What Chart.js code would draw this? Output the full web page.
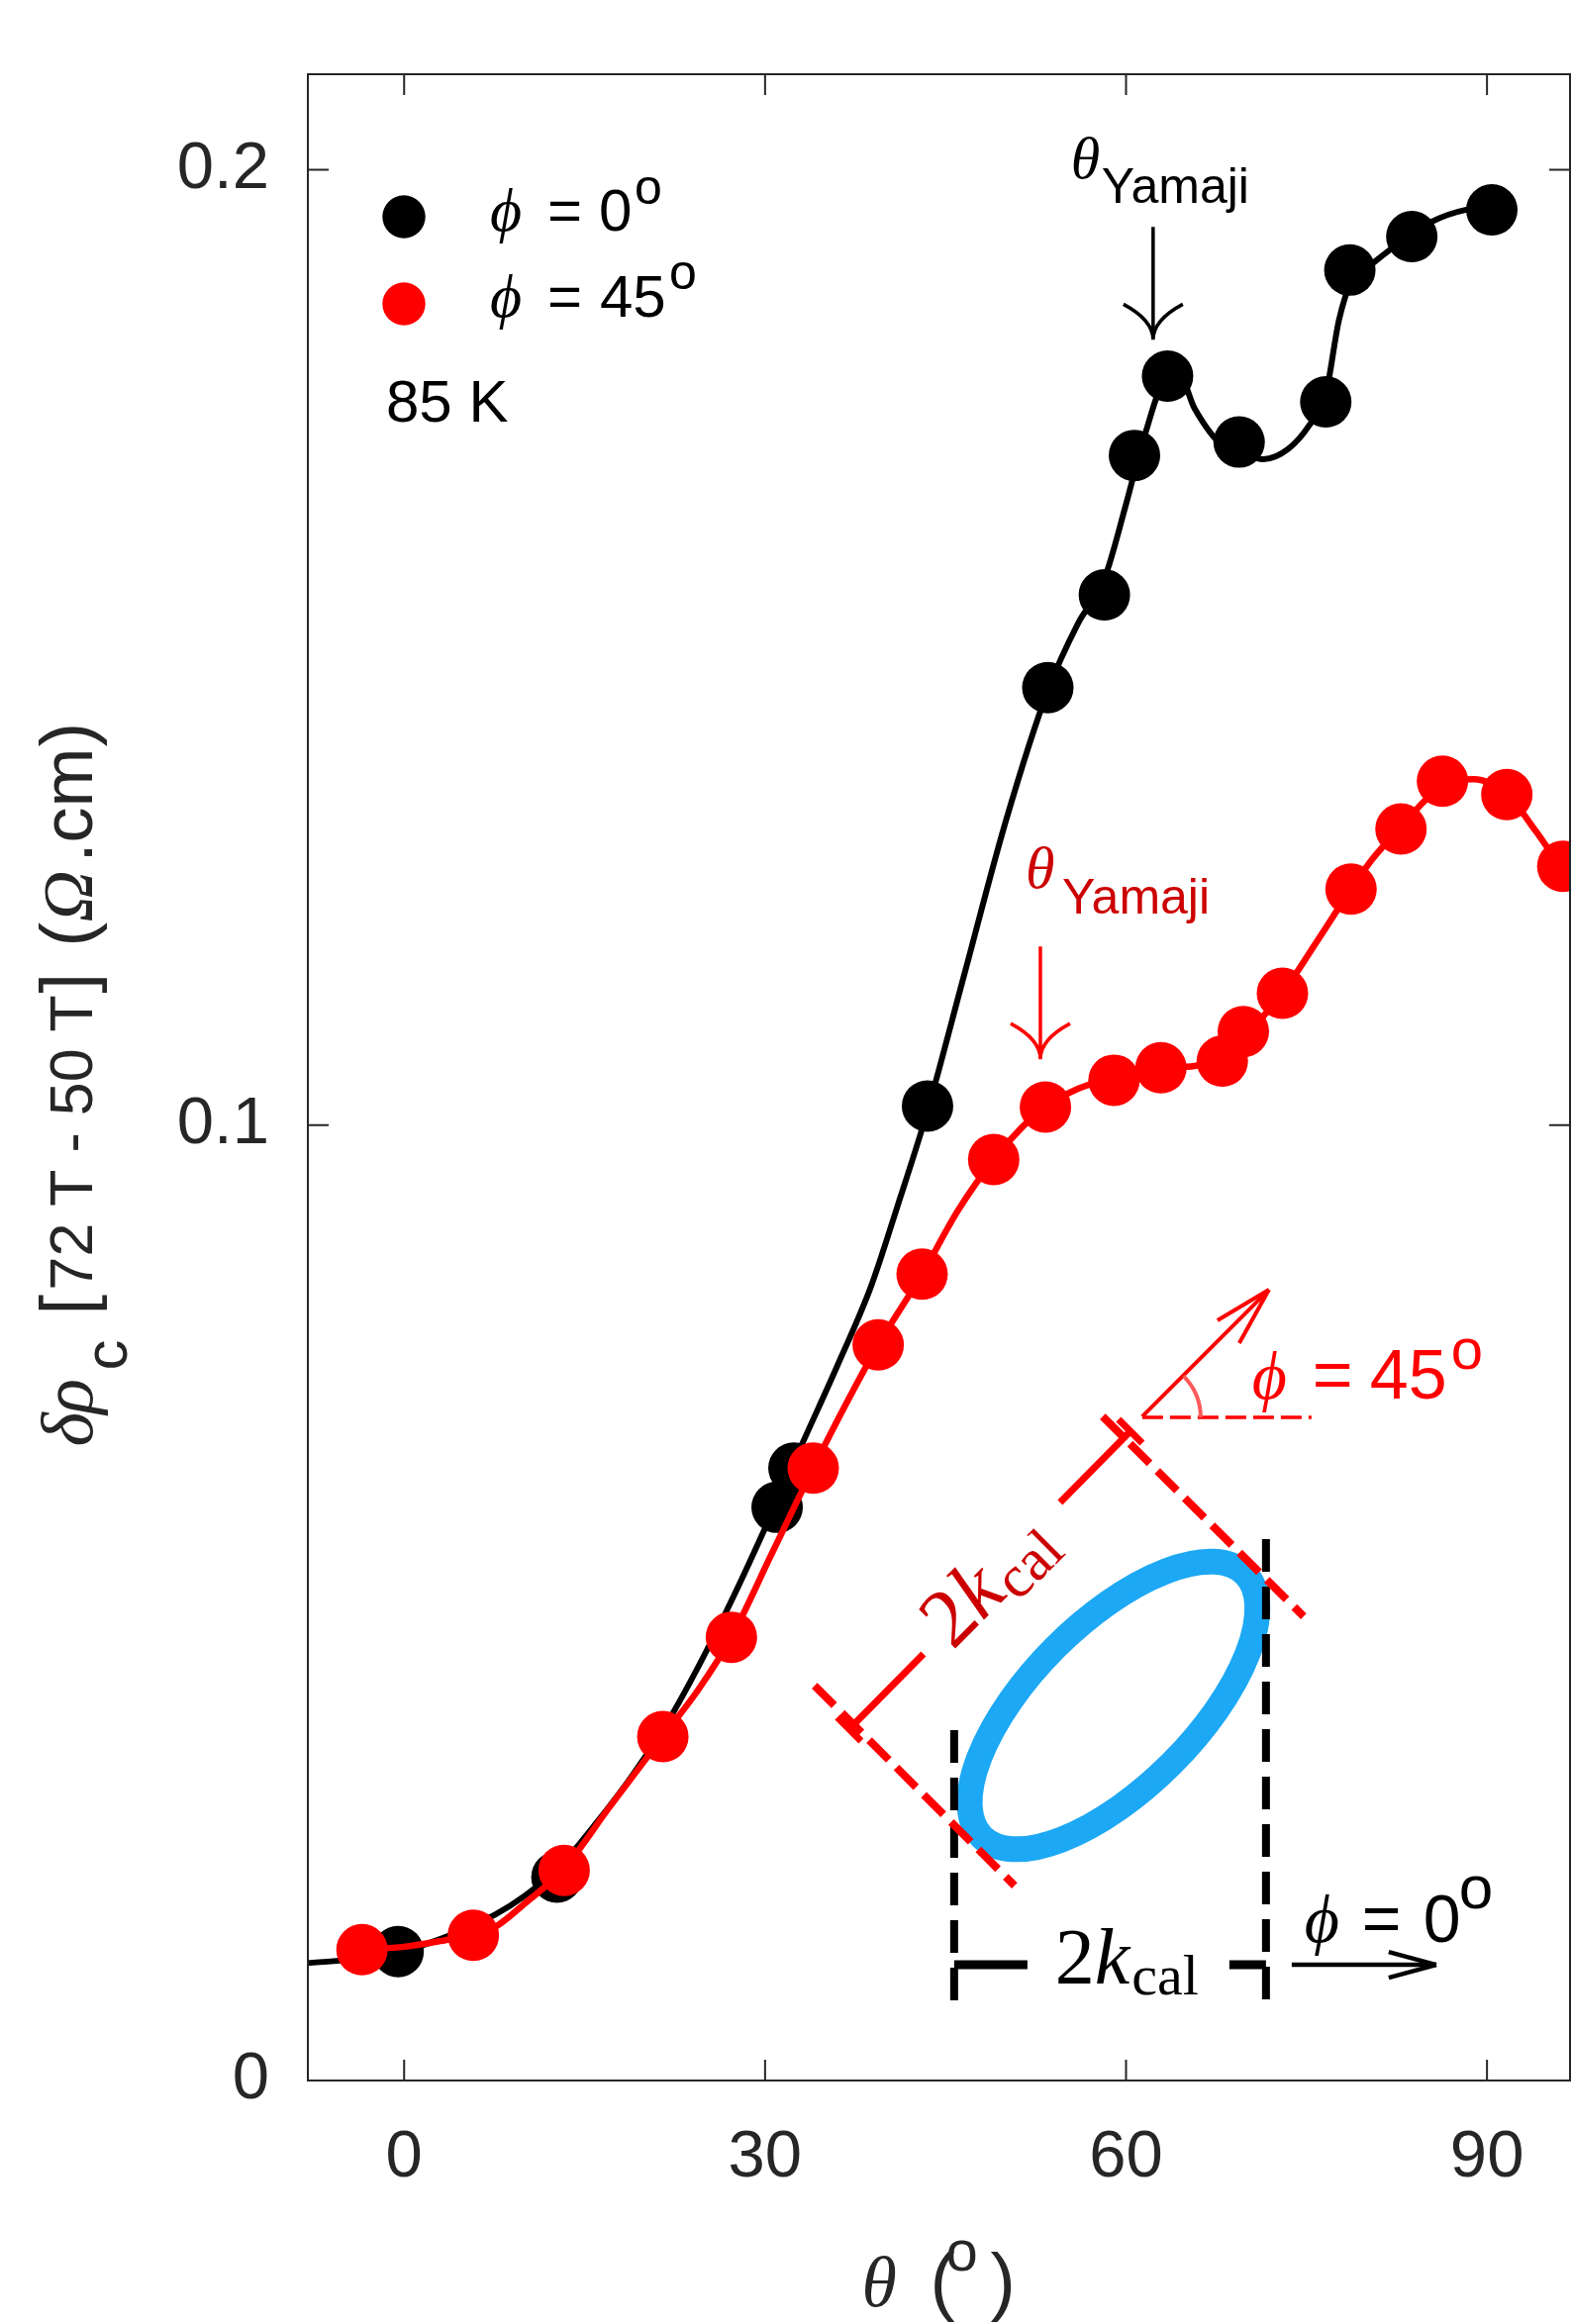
<!DOCTYPE html>
<html>
<head>
<meta charset="utf-8">
<script src="https://cdn.jsdelivr.net/npm/chart.js@4.4.1/dist/chart.umd.min.js"></script>
<style>
html, body { margin: 0; padding: 0; background: #fff; }
#chart-con { width: 1588px; height: 2348px; }
</style>
</head>
<body>
<div id="chart-con"><canvas id="my-chart" width="1588" height="2348"></canvas></div>
<script>
// axis ticks
const xTicks = [0, 30, 60, 90];
const yTicks = [0, 0.1, 0.2];
const yTickLabels = ['0', '0.1', '0.2'];

// phi = 0 deg, measured points
const blackTheta = [-0.5, 12.7, 31.0, 32.4, 43.5, 53.5, 58.2, 60.7, 63.45, 69.4, 76.6, 78.6, 83.75, 90.4];
const blackRho = [0.0135, 0.0213, 0.0600, 0.0641, 0.1020, 0.1458, 0.1555, 0.1701, 0.1784, 0.1715, 0.1757, 0.1895, 0.1930, 0.1958];

// phi = 45 deg, measured points
const redTheta = [-3.5, 5.75, 13.3, 21.5, 27.2, 34.0, 39.4, 43.05, 49.0, 53.3, 59.0, 62.9, 68.0, 69.75, 73.0, 78.7, 82.85, 86.3, 91.65, 96.3];
const redRho = [0.0137, 0.0152, 0.0220, 0.0360, 0.0464, 0.0641, 0.0770, 0.0844, 0.0964, 0.1019, 0.1047, 0.1060, 0.1067, 0.1098, 0.1138, 0.1247, 0.1310, 0.1360, 0.1346, 0.1271];

// smooth guide curves
const blackFitTheta = [-8, -5, -2, 0, 3, 7.6, 10, 13, 16, 19, 22.4, 26.7, 30, 33, 36, 38.8, 41, 43.5, 46.5, 50, 53.5, 56, 58.2, 60, 61.5, 63.45, 64.5, 65.7, 68.1, 69.4, 71.4, 73.5, 75.2, 76.6, 77.7, 78.8, 80.3, 81.8, 85.3, 88.2, 90.4];
const blackFitRho = [0.0123, 0.0126, 0.0131, 0.0136, 0.0148, 0.0174, 0.0193, 0.0225, 0.0270, 0.0320, 0.0386, 0.0489, 0.0578, 0.0664, 0.0748, 0.0831, 0.0915, 0.1015, 0.1155, 0.1318, 0.1455, 0.1525, 0.1572, 0.1650, 0.1720, 0.1782, 0.1783, 0.1750, 0.1710, 0.1705, 0.1697, 0.1708, 0.1732, 0.1765, 0.1843, 0.1885, 0.1900, 0.1915, 0.1945, 0.1958, 0.1960];

const redFitTheta = [-3.5, 0, 3, 5.75, 7.6, 10, 13.3, 17, 21.5, 24.5, 27.2, 30.5, 34.0, 36.8, 39.4, 43.05, 46, 49.0, 51.3, 53.3, 56, 59.0, 62.9, 65.7, 68.0, 69.75, 71.4, 73.0, 75.9, 78.7, 80.5, 82.85, 84.7, 86.3, 88.9, 91.65, 94.1, 96.9];
const redFitRho = [0.0137, 0.0140, 0.0146, 0.0153, 0.0161, 0.0185, 0.0222, 0.0285, 0.0360, 0.0410, 0.0464, 0.0550, 0.0641, 0.0710, 0.0770, 0.0844, 0.0910, 0.0964, 0.0997, 0.1019, 0.1038, 0.1050, 0.1060, 0.1062, 0.1072, 0.1095, 0.1114, 0.1138, 0.1193, 0.1247, 0.1279, 0.1312, 0.1338, 0.1356, 0.1362, 0.1346, 0.1307, 0.1255];

// where the annotations sit (theta, rho)
const yamajiBlackAt = [62.25, 0.1822];
const yamajiRedAt = [52.88, 0.1069];
const insetAt = [58.96, 0.03926];

const SANS = '"Liberation Sans", Arial, Helvetica, sans-serif';
const SERIF = '"Liberation Serif", "DejaVu Serif", "Times New Roman", serif';
const AXIS = '#262626';
const RED = '#ff0000';
const DARKRED = '#cc0000';

function pts(xs, ys) {
    return xs.map((x, i) => ({x: x, y: ys[i]}));
}

function put(ctx, s, x, y, font, color) {
    ctx.font = font;
    ctx.fillStyle = color;
    ctx.fillText(s, x, y);
    return ctx.measureText(s).width;
}

function seg(ctx, x1, y1, x2, y2, w, color, dash) {
    ctx.save();
    ctx.strokeStyle = color;
    ctx.lineWidth = w;
    ctx.setLineDash(dash || []);
    ctx.beginPath();
    ctx.moveTo(x1, y1);
    ctx.lineTo(x2, y2);
    ctx.stroke();
    ctx.restore();
}

function downArrow(ctx, x, tip, len, color) {
    ctx.save();
    ctx.strokeStyle = color;
    ctx.lineWidth = 3.5;
    ctx.beginPath();
    ctx.moveTo(x, tip - len);
    ctx.lineTo(x, tip);
    ctx.moveTo(x - 30, tip - 36);
    ctx.quadraticCurveTo(x, tip - 20, x, tip);
    ctx.moveTo(x + 30, tip - 36);
    ctx.quadraticCurveTo(x, tip - 20, x, tip);
    ctx.stroke();
    ctx.restore();
}

function twoK(ctx, x, y, color, size) {
    const s = size || 78;
    let w = put(ctx, '2', x, y, s + 'px ' + SERIF, color);
    w += put(ctx, 'k', x + w, y, 'italic ' + s + 'px ' + SERIF, color);
    w += put(ctx, 'cal', x + w + 2, y + s * 0.14, Math.round(s * 0.72) + 'px ' + SERIF, color);
    return w;
}

function drawFrame(ctx, a, sx, sy) {
    ctx.save();
    ctx.strokeStyle = AXIS;
    ctx.lineWidth = 2;
    ctx.strokeRect(a.left, a.top, a.right - a.left, a.bottom - a.top);
    ctx.beginPath();
    xTicks.forEach(v => {
        const p = sx.getPixelForValue(v);
        ctx.moveTo(p, a.bottom); ctx.lineTo(p, a.bottom - 21);
        ctx.moveTo(p, a.top); ctx.lineTo(p, a.top + 21);
    });
    yTicks.forEach(v => {
        const p = sy.getPixelForValue(v);
        ctx.moveTo(a.left, p); ctx.lineTo(a.left + 21, p);
        ctx.moveTo(a.right, p); ctx.lineTo(a.right - 21, p);
    });
    ctx.stroke();
    ctx.restore();
}

function drawTitles(ctx, a) {
    // x title
    const cx = (a.left + a.right) / 2, by = a.bottom + 228;
    put(ctx, '\u03b8', cx - 78, by, 'italic 72px ' + SERIF, AXIS);
    put(ctx, '(', cx - 9, by, '76px ' + SANS, AXIS);
    put(ctx, 'o', cx + 7, by - 36, '58px ' + SANS, AXIS);
    put(ctx, ')', cx + 52, by, '76px ' + SANS, AXIS);

    // y title, rotated
    ctx.save();
    ctx.translate(93, (a.top + a.bottom) / 2 + 371);
    ctx.rotate(-Math.PI / 2);
    const parts = [
        ['\u03b4', 'italic 74px ' + SERIF, -2, 0],
        ['\u03c1', 'italic 74px ' + SERIF, 31, 0],
        ['c', '62px ' + SANS, 75, 35],
        ['[', '74px ' + SANS, 131, 0],
        ['72 T - 50 T', '61px ' + SANS, 156, 0],
        [']', '74px ' + SANS, 456, 0],
        ['(', '74px ' + SANS, 503, 0],
        ['\u03a9', 'italic 72px ' + SERIF, 528, 0],
        ['.cm', '72px ' + SANS, 588, 0],
        [')', '74px ' + SANS, 705, 0]
    ];
    parts.forEach(p => put(ctx, p[0], p[2], p[3], p[1], AXIS));
    ctx.restore();
}

function drawLegend(ctx, a) {
    const L = a.left, T = a.top;
    ctx.save();
    ctx.fillStyle = '#000';
    ctx.beginPath(); ctx.arc(L + 97, T + 144, 21.7, 0, 2 * Math.PI); ctx.fill();
    ctx.fillStyle = RED;
    ctx.beginPath(); ctx.arc(L + 97, T + 232, 21.7, 0, 2 * Math.PI); ctx.fill();
    ctx.restore();
    put(ctx, '\u03d5', L + 184, T + 158, 'italic 62px ' + SERIF, '#000');
    put(ctx, '=', L + 242, T + 158, '60px ' + SANS, '#000');
    put(ctx, '0', L + 294, T + 158, '60px ' + SANS, '#000');
    put(ctx, 'o', L + 330, T + 131, '50px ' + SANS, '#000');
    put(ctx, '\u03d5', L + 184, T + 245, 'italic 62px ' + SERIF, '#000');
    put(ctx, '=', L + 242, T + 245, '60px ' + SANS, '#000');
    put(ctx, '45', L + 295, T + 245, '60px ' + SANS, '#000');
    put(ctx, 'o', L + 365, T + 217, '50px ' + SANS, '#000');
    put(ctx, '85 K', L + 79, T + 351, '60px ' + SANS, '#000');
}

// arrow tip at (x, tip); label offsets from the tip
function drawYamaji(ctx, x, tip, color, textColor, off) {
    downArrow(ctx, x, tip, 114, color);
    put(ctx, '\u03b8', x + off[0], tip + off[1], 'italic 60px ' + SERIF, textColor);
    put(ctx, 'Yamaji', x + off[2], tip + off[3], '50px ' + SANS, textColor);
}

function drawInset(ctx, ox, oy) {
    // Fermi surface ellipse
    ctx.save();
    ctx.strokeStyle = '#1ca8f4';
    ctx.lineWidth = 26;
    ctx.beginPath();
    ctx.ellipse(ox, oy, 188, 83, -Math.PI / 4, 0, 2 * Math.PI);
    ctx.stroke();
    ctx.restore();

    // phi = 0 caliper
    seg(ctx, ox - 161, oy + 25, ox - 161, oy + 300, 8, '#000', [33, 15]);
    seg(ctx, ox + 154, oy - 168, ox + 154, oy + 300, 8, '#000', [33, 15]);
    seg(ctx, ox - 161, oy + 262, ox - 87, oy + 262, 9, '#000');
    seg(ctx, ox + 117, oy + 262, ox + 154, oy + 262, 9, '#000');
    twoK(ctx, ox - 59, oy + 281, '#000', 80);
    seg(ctx, ox + 180, oy + 262, ox + 326, oy + 262, 4.5, '#000');
    seg(ctx, ox + 326, oy + 262, ox + 278, oy + 249, 4.5, '#000');
    seg(ctx, ox + 326, oy + 262, ox + 278, oy + 275, 4.5, '#000');
    put(ctx, '\u03d5', ox + 193, oy + 239, 'italic 68px ' + SERIF, '#000');
    put(ctx, '=', ox + 251, oy + 239, '68px ' + SANS, '#000');
    put(ctx, '0', ox + 313, oy + 239, '68px ' + SANS, '#000');
    put(ctx, 'o', ox + 349, oy + 205, '62px ' + SANS, '#000');

    // phi = 45 caliper
    seg(ctx, ox - 11, oy - 292, ox + 192, oy - 90, 8, RED, [28, 11]);
    seg(ctx, ox - 302, oy - 20, ox - 100, oy + 182, 8, RED, [28, 11]);
    seg(ctx, ox - 267, oy + 24, ox - 192, oy - 52, 7, RED);
    seg(ctx, ox - 54, oy - 205, ox + 17, oy - 277, 7, RED);
    seg(ctx, ox - 279, oy + 12, ox - 255, oy + 36, 7, RED);
    seg(ctx, ox + 5, oy - 289, ox + 29, oy - 265, 7, RED);
    ctx.save();
    ctx.translate(ox - 127, oy - 130);
    ctx.rotate(-Math.PI / 4);
    ctx.font = '84px ' + SERIF;
    const w = ctx.measureText('2').width + 43 + 71;
    twoK(ctx, -w / 2, 28, DARKRED, 84);
    ctx.restore();

    seg(ctx, ox + 29, oy - 292, ox + 157, oy - 420, 4, RED);
    seg(ctx, ox + 157, oy - 420, ox + 105, oy - 389, 4, RED);
    seg(ctx, ox + 157, oy - 420, ox + 127, oy - 366, 4, RED);
    seg(ctx, ox + 29, oy - 291, ox + 200, oy - 291, 3.5, RED, [21, 7]);
    ctx.save();
    ctx.strokeStyle = '#ff5a5a';
    ctx.lineWidth = 4;
    ctx.beginPath();
    ctx.arc(ox + 29, oy - 291, 59, -Math.PI / 4, 0);
    ctx.stroke();
    ctx.restore();
    put(ctx, '\u03d5', ox + 140, oy - 310, 'italic 68px ' + SERIF, RED);
    put(ctx, '=', ox + 201, oy - 310, '70px ' + SANS, RED);
    put(ctx, '45', ox + 259, oy - 310, '70px ' + SANS, RED);
    put(ctx, 'o', ox + 341, oy - 340, '58px ' + SANS, RED);
}

const overlay = {
    id: 'overlay',
    afterDatasetsDraw(chart) {
        const ctx = chart.ctx, a = chart.chartArea;
        const sx = chart.scales.x, sy = chart.scales.y;
        ctx.save();
        ctx.textBaseline = 'alphabetic';
        ctx.textAlign = 'left';
        drawFrame(ctx, a, sx, sy);
        drawTitles(ctx, a);
        drawLegend(ctx, a);
        drawYamaji(ctx, sx.getPixelForValue(yamajiBlackAt[0]), sy.getPixelForValue(yamajiBlackAt[1]), '#000', '#000', [-83, -163, -52, -138]);
        drawYamaji(ctx, sx.getPixelForValue(yamajiRedAt[0]), sy.getPixelForValue(yamajiRedAt[1]), RED, DARKRED, [-15, -173, 22, -147]);
        drawInset(ctx, sx.getPixelForValue(insetAt[0]), sy.getPixelForValue(insetAt[1]));
        ctx.restore();
    }
};

const data = {
    datasets: [
        { label: 'red points', data: pts(redTheta, redRho), backgroundColor: RED, borderWidth: 0, pointRadius: 26, order: 0 },
        { label: 'red fit', data: pts(redFitTheta, redFitRho), showLine: true, borderColor: RED, borderWidth: 6.5,
          pointRadius: 0, cubicInterpolationMode: 'monotone', order: 1 },
        { label: 'black points', data: pts(blackTheta, blackRho), backgroundColor: '#000', borderWidth: 0, pointRadius: 26, order: 2 },
        { label: 'black fit', data: pts(blackFitTheta, blackFitRho), showLine: true, borderColor: '#000', borderWidth: 6,
          pointRadius: 0, cubicInterpolationMode: 'monotone', order: 3 }
    ]
};

const config = {
    type: 'scatter',
    data,
    options: {
        responsive: false,
        animation: false,
        devicePixelRatio: 1,
        events: [],
        layout: { autoPadding: false, padding: { left: 0, right: 2, top: 75, bottom: 0 } },
        plugins: { legend: { display: false }, tooltip: { enabled: false } },
        scales: {
            x: {
                type: 'linear', min: -8, max: 96.9,
                afterFit: s => { s.height = 246; s.paddingLeft = 0; s.paddingRight = 0; },
                afterBuildTicks: s => { s.ticks = xTicks.map(v => ({value: v})); },
                grid: { display: false, drawTicks: true, tickLength: 45 },
                border: { display: false },
                ticks: { color: AXIS, padding: 0, autoSkip: false, maxRotation: 0,
                         font: { family: SANS, size: 67, lineHeight: 1 } }
            },
            y: {
                type: 'linear', min: 0, max: 0.21,
                afterFit: s => { s.width = 311; s.paddingTop = 0; s.paddingBottom = 0; },
                afterBuildTicks: s => { s.ticks = yTicks.map(v => ({value: v})); },
                grid: { display: false, drawTicks: true, tickLength: 39 },
                border: { display: false },
                ticks: { color: AXIS, padding: 0, autoSkip: false,
                         callback: v => yTickLabels[yTicks.indexOf(v)],
                         font: { family: SANS, size: 67, lineHeight: 1 } }
            }
        }
    },
    plugins: [overlay]
};

var myChart = new Chart(document.getElementById('my-chart').getContext('2d'), config);
</script>
</body>
</html>
